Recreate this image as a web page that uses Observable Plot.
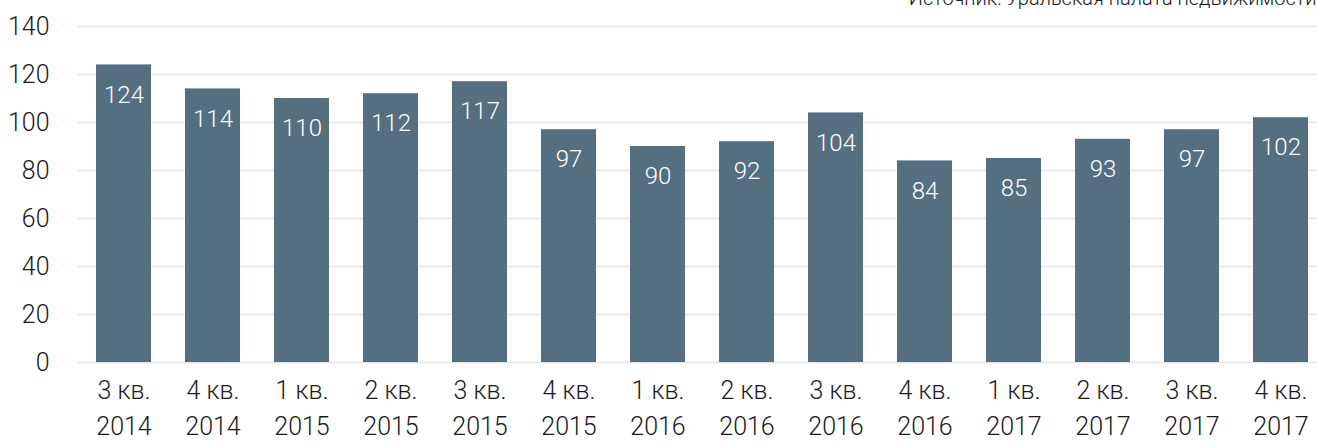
<!DOCTYPE html>
<html>
<head>
<meta charset="utf-8">
<script src="https://cdn.jsdelivr.net/npm/d3@7"></script>
<script src="https://cdn.jsdelivr.net/npm/@observablehq/plot@0.6"></script>
<style>
  html, body { margin: 0; padding: 0; background: #fff; }
  #chart svg { display: block; }
</style>
</head>
<body>
<div id="chart"></div>
<script>
const quarters = ["3 кв.", "4 кв.", "1 кв.", "2 кв.", "3 кв.", "4 кв.", "1 кв.", "2 кв.", "3 кв.", "4 кв.", "1 кв.", "2 кв.", "3 кв.", "4 кв."];
const years = ["2014", "2014", "2015", "2015", "2015", "2015", "2016", "2016", "2016", "2016", "2017", "2017", "2017", "2017"];
const values = [124, 114, 110, 112, 117, 97, 90, 92, 104, 84, 85, 93, 97, 102];
const yTicks = [0, 20, 40, 60, 80, 100, 120, 140];
const sourceText = "Источник: Уральская палата недвижимости";

const labels = quarters.map((q, i) => q + "\n" + years[i]);
const data = labels.map((label, i) => ({label, value: values[i]}));

const font = "Roboto, 'DejaVu Sans', sans-serif";

const chart = Plot.plot({
  width: 1317,
  height: 444,
  marginTop: 26,
  marginBottom: 82,
  marginLeft: 77,
  marginRight: 0,
  style: {fontFamily: font, fontWeight: 300, color: "#1a1a1a", background: "#fff"},
  x: {domain: labels, range: [88, 1317], paddingInner: 0.377, paddingOuter: 0.065, label: null},
  y: {domain: [0, 140], label: null},
  marks: [
    Plot.ruleY(yTicks, {stroke: "#e3e3e3", strokeWidth: 1.6}),
    Plot.barY(data, {x: "label", y: "value", fill: "#546f80"}),
    Plot.text(data, {x: "label", y: "value", text: d => String(d.value), dy: 30, fill: "#ffffff", fontSize: 24, fontWeight: 300}),
    Plot.axisY({ticks: yTicks, tickSize: 0, tickPadding: 28, fontSize: 25, fontWeight: 300, label: null}),
    Plot.axisX({tickSize: 0, tickPadding: 11, fontSize: 25, fontWeight: 300, lineHeight: 1.44, label: null}),
    Plot.text([sourceText], {frameAnchor: "top-right", lineAnchor: "bottom", dy: -22, dx: -1, fontSize: 20, fontWeight: 300, fill: "#1a1a1a"})
  ]
});
document.getElementById("chart").appendChild(chart);
</script>
</body>
</html>
